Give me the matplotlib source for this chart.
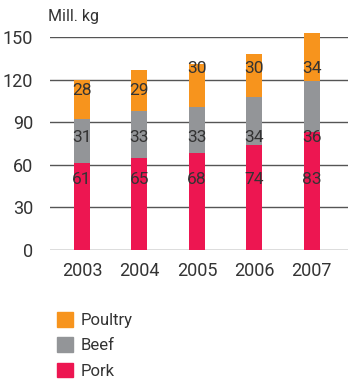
import numpy as np
import matplotlib
matplotlib.use("Agg")
import matplotlib.pyplot as plt
from matplotlib.patches import Patch

plt.rcParams['font.family'] = ['Roboto', 'DejaVu Sans']

# data
years = ['2003', '2004', '2005', '2006', '2007']
pork = [61, 65, 68, 74, 83]
beef = [31, 33, 33, 34, 36]
poultry = [28, 29, 30, 30, 34]

# where the value labels sit (data units)
pork_label_y = [49.5, 49.5, 49.5, 49.5, 49.5]
beef_label_y = [79.5, 79.5, 79.5, 79.5, 79.5]
poultry_label_y = [112.5, 112.5, 127.5, 127.5, 127.5]

c_pork = '#ED1651'
c_beef = '#939598'
c_poultry = '#F7941D'
txt = '#333333'

fig = plt.figure(figsize=(3.48, 3.80), dpi=100)
ax = fig.add_axes([50/348, 1 - 250/380, 1 - 50/348, 213/380])

x = np.arange(len(years))
w = 0.28
pork_arr = np.array(pork)
beef_arr = np.array(beef)
poultry_arr = np.array(poultry)

ax.bar(x, pork_arr, w, color=c_pork, zorder=3, clip_on=False)
ax.bar(x, beef_arr, w, bottom=pork_arr, color=c_beef, zorder=3, clip_on=False)
ax.bar(x, poultry_arr, w, bottom=pork_arr + beef_arr, color=c_poultry, zorder=3, clip_on=False)

for i in range(len(years)):
    ax.text(x[i], pork_label_y[i], str(pork[i]), ha='center', va='center', fontsize=12.5, color=txt, zorder=4)
    ax.text(x[i], beef_label_y[i], str(beef[i]), ha='center', va='center', fontsize=12.5, color=txt, zorder=4)
    ax.text(x[i], poultry_label_y[i], str(poultry[i]), ha='center', va='center', fontsize=12.5, color=txt, zorder=4)

ax.set_xlim(-0.557, 4.63)
ax.set_ylim(0, 150)
ax.set_yticks([0, 30, 60, 90, 120, 150])
ax.set_xticks(x)
ax.set_xticklabels(years)
ax.tick_params(axis='both', length=0, labelsize=13, colors=txt)
ax.tick_params(axis='y', pad=12)
ax.tick_params(axis='x', pad=9)
ax.yaxis.grid(True, color='#555555', linewidth=1.0, zorder=0)
ax.set_axisbelow(True)
for s in ax.spines.values():
    s.set_visible(False)

fig.text(48/348, 1 - 17/380, 'Mill. kg', fontsize=11.5, color=txt, va='center', ha='left')

handles = [Patch(color=c_poultry), Patch(color=c_beef), Patch(color=c_pork)]
fig.legend(handles, ['Poultry', 'Beef', 'Pork'], loc='upper left',
           bbox_to_anchor=(49/348, 1 - 304/380), frameon=False, fontsize=12,
           handlelength=0.96, handleheight=0.96, handletextpad=0.45,
           labelspacing=0.55, borderpad=0, labelcolor=txt)

fig.savefig('out.png', dpi=100)
